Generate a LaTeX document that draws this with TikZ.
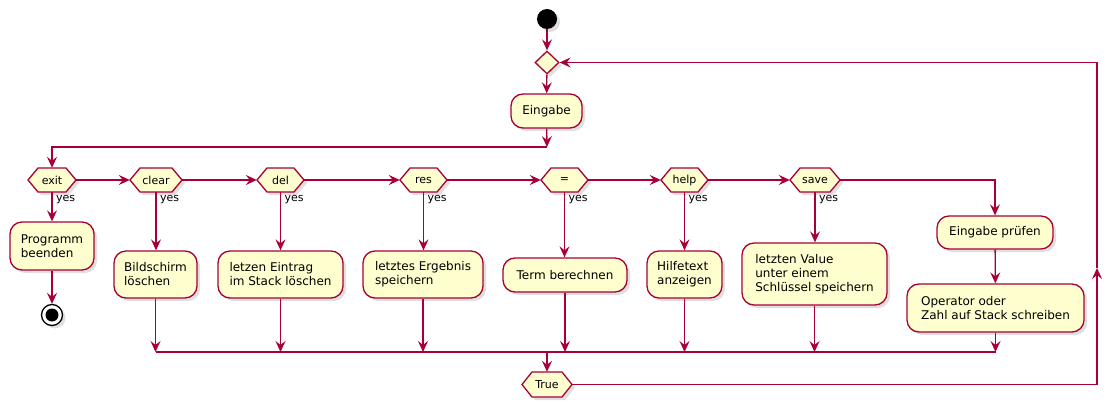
\documentclass[tikz,border=0pt]{standalone}
\usepackage{fontspec}
\setmainfont{DejaVu Sans}
\usetikzlibrary{arrows.meta,shapes.geometric,shadows,calc}
\definecolor{pred}{HTML}{A80036}
\definecolor{pfill}{HTML}{FEFECE}
\tikzset{
  pshadow/.style={drop shadow={opacity=0.25,shadow xshift=3pt,shadow yshift=-3pt}},
  flow/.style={draw=pred,line width=1.3pt,-{Stealth[length=11pt,width=10pt,inset=4pt]}},
  plain/.style={draw=pred,line width=1.3pt},
  act/.style={rectangle,rounded corners=12pt,draw=pred,fill=pfill,line width=1.3pt,
    font=\fontsize{12}{14}\selectfont,align=left,inner sep=0pt,pshadow},
  hexpath/.style={draw=pred,fill=pfill,line width=1.3pt,pshadow},
  hextext/.style={rectangle,inner sep=0pt,font=\fontsize{11}{13}\selectfont},
  yeslbl/.style={inner sep=0pt,anchor=west,font=\fontsize{11}{13}\selectfont},
}
\newcommand\hexnode[6]{%
  \path[hexpath] ({#2-#4},#3) -- ({#2-#4+10},{#3-#5}) -- ({#2+#4-10},{#3-#5}) --
    ({#2+#4},#3) -- ({#2+#4-10},{#3+#5}) -- ({#2-#4+10},{#3+#5}) -- cycle;
  \node[hextext,minimum width={2*#4pt},minimum height={2*#5pt}] (#1) at (#2,#3) {#6};
}
\begin{document}
\begin{tikzpicture}[x=1pt,y=-1pt]
\useasboundingbox (0,0) rectangle (1110,406);
% start
\node[circle,fill=black,minimum size=20pt,inner sep=0pt,pshadow] (start) at (547,19) {};
\node[diamond,draw=pred,fill=pfill,line width=1.3pt,minimum width=24pt,minimum height=23pt,inner sep=0pt,pshadow] (dia) at (547,62.5) {};
\node[act,minimum width=71pt,minimum height=34pt] (eingabe) at (546.5,111) {Eingabe};
\coordinate (m1) at (547,147);
% decisions
\hexnode{exit}{52}{180}{24}{12}{exit}
\hexnode{clear}{156}{180}{26}{12}{clear}
\hexnode{del}{280.5}{180}{23.5}{12}{del}
\hexnode{res}{423.5}{180}{23.5}{12}{res}
\hexnode{eq}{564.5}{180}{23.5}{12}{=}
\hexnode{help}{684.5}{180}{23.5}{12}{help}
\hexnode{save}{815}{180}{25}{12}{save}
% actions
\node[act,minimum width=84pt,minimum height=48pt] (prog) at (52,246) {Programm\\beenden};
\node[act,minimum width=83pt,minimum height=47pt] (bild) at (155.5,274.5) {Bildschirm\\löschen};
\node[act,minimum width=125pt,minimum height=47pt] (letzen) at (280.5,274.5) {letzen Eintrag\\im Stack löschen};
\node[act,minimum width=120pt,minimum height=47pt] (ergeb) at (423,274.5) {letztes Ergebnis\\speichern};
\node[act,minimum width=124pt,minimum height=34pt] (term) at (565,275) {Term berechnen};
\node[act,minimum width=75pt,minimum height=47pt] (hilfe) at (684.5,274.5) {Hilfetext\\anzeigen};
\node[act,minimum width=145pt,minimum height=62pt] (value) at (814.5,274) {letzten Value\\unter einem\\Schlüssel speichern};
\node[act,minimum width=116pt,minimum height=33pt] (pruef) at (995,232.5) {Eingabe prüfen};
\node[act,minimum width=177pt,minimum height=48pt] (op) at (995.5,308) {Operator oder\\Zahl auf Stack schreiben};
% stop
\node[circle,draw=black,fill=white,line width=1.3pt,minimum size=21pt,inner sep=0pt,pshadow] (stop) at (52,315) {};
\node[circle,fill=black,minimum size=13pt,inner sep=0pt] (stopin) at (stop.center) {};
% loop end
\hexnode{true}{547}{384.5}{25}{12.5}{True}
\coordinate (m2) at (547,352);
\coordinate (m2l) at (155.5,352);
\coordinate (m2r) at (995.5,352);
\coordinate (rb) at (1097,384.5);
\coordinate (rm) at (1097,268);
\coordinate (rt) at (1097,62.5);
% yes labels
\foreach \n in {exit,clear,del,res,eq,help,save}
  \node[yeslbl] (y\n) at ([xshift=4pt,yshift=-7pt]\n.south) {yes};
% connectors
\draw[flow] (start) -- (dia);
\draw[flow] (dia) -- (eingabe);
\draw[flow] (eingabe) -- (m1);
\draw[flow] (m1) -| (exit.north);
\draw[flow] (exit.east) -- (clear.west);
\draw[flow] (clear.east) -- (del.west);
\draw[flow] (del.east) -- (res.west);
\draw[flow] (res.east) -- (eq.west);
\draw[flow] (eq.east) -- (help.west);
\draw[flow] (help.east) -- (save.west);
\draw[flow] (save.east) -| (pruef.north);
\draw[flow] (exit.south) -- (prog.north);
\draw[flow] (prog) -- (stop);
\draw[flow] (clear.south) -- (clear.south |- bild.north);
\draw[flow] (del.south) -- (del.south |- letzen.north);
\draw[flow] (res.south) -- (res.south |- ergeb.north);
\draw[flow] (eq.south) -- (eq.south |- term.north);
\draw[flow] (help.south) -- (help.south |- hilfe.north);
\draw[flow] (save.south) -- (save.south |- value.north);
\draw[flow] (pruef) -- (op);
\draw[flow] (bild.south) -- (bild.south |- m2);
\draw[flow] (letzen.south) -- (letzen.south |- m2);
\draw[flow] (ergeb.south) -- (ergeb.south |- m2);
\draw[flow] (term.south) -- (term.south |- m2);
\draw[flow] (hilfe.south) -- (hilfe.south |- m2);
\draw[flow] (value.south) -- (value.south |- m2);
\draw[flow] (op.south) -- (op.south |- m2);
\draw[plain] (m2l) -- (m2r);
\draw[flow] (m2) -- (true.north);
\draw[flow] (true.east) -- (rb) -- (rm);
\draw[flow] (rm) -- (rt) -- (dia.east);
\end{tikzpicture}
\end{document}
